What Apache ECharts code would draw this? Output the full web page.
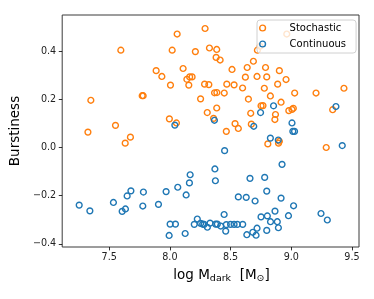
<!DOCTYPE html>
<html><head><meta charset="utf-8">
<script src="https://cdn.jsdelivr.net/npm/echarts@6/dist/echarts.min.js"></script>
<style>html,body{margin:0;padding:0;background:#fff}#c{width:374px;height:299px}</style>
</head><body><div id="c"></div>
<script>
const seriesNames = ['Stochastic', 'Continuous'];
const stochasticX = [8.290,8.060,8.963,7.596,8.019,8.210,8.326,8.386,8.381,8.414,
  8.721,8.743,8.688,8.637,8.788,8.902,8.512,7.887,7.934,8.109,
  8.163,8.183,8.140,8.156,8.005,8.286,8.321,8.368,8.387,8.448,
  8.469,8.529,8.622,8.718,8.798,8.957,8.888,8.599,8.778,9.028,
  9.204,9.434,8.828,8.647,8.916,8.253,8.386,8.751,8.767,8.308,
  8.666,8.870,8.865,8.980,9.006,9.017,9.341,7.772,7.780,7.349,
  7.996,8.054,8.360,8.537,8.564,8.671,8.465,7.552,7.325,7.675,
  7.632,8.807,8.895,8.902,9.288];
const stochasticY = [0.494,0.471,0.471,0.404,0.404,0.398,0.413,0.407,0.374,0.363,
  0.404,0.420,0.358,0.332,0.332,0.319,0.324,0.319,0.295,0.328,
  0.293,0.293,0.283,0.259,0.259,0.263,0.261,0.227,0.228,0.226,
  0.263,0.260,0.292,0.295,0.293,0.282,0.263,0.247,0.246,0.226,
  0.226,0.246,0.214,0.201,0.188,0.202,0.164,0.173,0.174,0.145,
  0.142,0.137,0.116,0.153,0.158,0.163,0.157,0.215,0.215,0.196,
  0.119,0.102,0.121,0.099,0.079,0.097,0.067,0.092,0.064,0.043,
  0.018,0.015,0.018,0.026,0.000];
const continuousX = [9.368,8.854,8.747,8.367,8.041,8.691,9.006,9.013,9.027,8.828,
  8.893,8.451,9.420,8.924,8.371,8.375,8.660,8.781,8.798,8.564,
  8.629,8.702,8.916,9.019,8.866,9.245,9.297,8.977,8.751,8.803,
  8.829,8.885,8.894,8.798,8.718,8.683,8.710,8.634,8.447,8.253,
  8.270,8.282,8.309,8.331,8.377,8.391,8.419,8.465,8.460,8.500,
  8.529,8.556,8.600,8.134,8.126,8.226,8.201,8.167,8.161,8.065,
  7.969,7.782,7.679,7.648,7.535,7.906,7.777,7.634,7.607,7.253,
  7.341,8.002,8.046,7.994];
const continuousY = [0.170,0.173,0.145,0.113,0.093,0.088,0.102,0.067,0.067,0.039,
  0.031,-0.013,0.008,-0.070,-0.089,-0.138,-0.128,-0.124,-0.181,-0.205,
  -0.207,-0.222,-0.210,-0.242,-0.264,-0.274,-0.301,-0.283,-0.288,-0.284,
  -0.308,-0.308,-0.333,-0.344,-0.335,-0.352,-0.364,-0.362,-0.278,-0.315,
  -0.318,-0.319,-0.331,-0.314,-0.318,-0.318,-0.326,-0.320,-0.347,-0.319,
  -0.319,-0.319,-0.319,-0.197,-0.357,-0.297,-0.319,-0.113,-0.147,-0.165,
  -0.183,-0.185,-0.180,-0.201,-0.228,-0.236,-0.243,-0.255,-0.265,-0.239,
  -0.263,-0.318,-0.318,-0.365];
const xTicks = [7.5, 8.0, 8.5, 9.0, 9.5];
const xTickLabels = ['7.5', '8.0', '8.5', '9.0', '9.5'];
const yTicks = [-0.4, -0.2, 0.0, 0.2, 0.4];
const yTickLabels = ['\u22120.4', '\u22120.2', '0.0', '0.2', '0.4'];
const colors = ['#ff7f0e', '#1f77b4'];

const FONT = 'DejaVu Sans';
function zip(xs, ys) { return xs.map((x, i) => [x, ys[i]]); }
function lab(ticks, labels) { return v => { const i = ticks.findIndex(t => Math.abs(t - v) < 1e-9); return i >= 0 ? labels[i] : ''; }; }

const chart = echarts.init(document.getElementById('c'), null, {renderer: 'canvas'});
const mk = (name, data, color) => ({
  name, type: 'scatter', data, symbol: 'circle', symbolSize: 5.8,
  itemStyle: {color: 'rgba(0,0,0,0)', borderColor: color, borderWidth: 1.4, opacity: 1},
  emphasis: {disabled: true}, animation: false
});
chart.setOption({
  animation: false,
  grid: {left: 62, right: 15, top: 15, bottom: 52, show: true, borderColor: '#3a3a3a', borderWidth: 1, backgroundColor: 'transparent'},
  xAxis: {
    type: 'value', min: 7.113, max: 9.558,
    name: '{n|log M}{s|dark}{n|  [M}{s|\u2299}{n|]}',
    nameLocation: 'middle', nameGap: 19,
    nameTextStyle: {padding: [0, 0, 0, 22], rich: {
      n: {fontFamily: FONT, fontSize: 13.5, color: '#000', lineHeight: 18},
      s: {fontFamily: FONT, fontSize: 9.5, color: '#000', lineHeight: 18, padding: [7, 0, 0, 0]}
    }},
    axisLine: {show: false, onZero: false},
    axisTick: {show: true, length: 3.4, inside: false, customValues: xTicks, lineStyle: {color: '#000', width: 0.8}},
    axisLabel: {customValues: xTicks, formatter: lab(xTicks, xTickLabels), margin: 5, fontFamily: FONT, fontSize: 9.6, color: '#222'},
    splitLine: {show: false}
  },
  yAxis: {
    type: 'value', min: -0.413, max: 0.55,
    name: 'Burstiness', nameLocation: 'middle', nameGap: 37, nameRotate: 90,
    nameTextStyle: {fontFamily: FONT, fontSize: 13.5, color: '#000'},
    axisLine: {show: false, onZero: false},
    axisTick: {show: true, length: 3.4, customValues: yTicks, lineStyle: {color: '#000', width: 0.8}},
    axisLabel: {customValues: yTicks, formatter: lab(yTicks, yTickLabels), margin: 6, fontFamily: FONT, fontSize: 9.6, color: '#222'},
    splitLine: {show: false}
  },
  legend: {
    orient: 'vertical', left: 257, top: 20,
    padding: [2, 10, 3, 2], itemGap: 4, itemWidth: 26, itemHeight: 5.8,
    backgroundColor: 'rgba(255,255,255,0.8)', borderColor: '#d0d0d0', borderWidth: 1, borderRadius: 3,
    textStyle: {fontFamily: FONT, fontSize: 10, color: '#000', lineHeight: 12, padding: [0, 0, 0, 9]},
    data: [
      {name: seriesNames[0], icon: 'circle', itemStyle: {color: 'rgba(0,0,0,0)', borderColor: colors[0], borderWidth: 1.4}},
      {name: seriesNames[1], icon: 'circle', itemStyle: {color: 'rgba(0,0,0,0)', borderColor: colors[1], borderWidth: 1.4}}
    ]
  },
  series: [
    mk(seriesNames[0], zip(stochasticX, stochasticY), colors[0]),
    mk(seriesNames[1], zip(continuousX, continuousY), colors[1])
  ]
});
</script>
</body></html>
